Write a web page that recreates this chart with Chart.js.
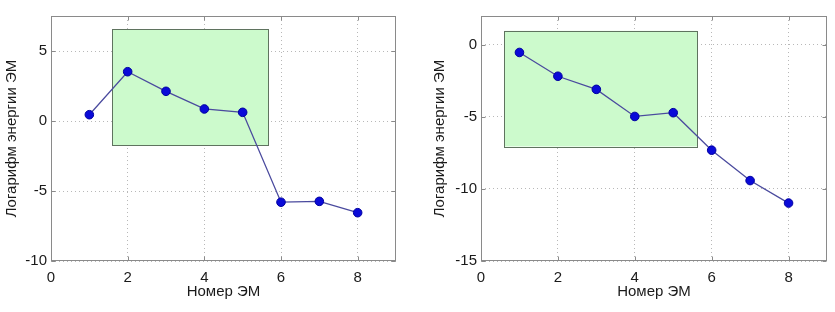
<!DOCTYPE html>
<html>
<head>
<meta charset="utf-8">
<script src="https://cdn.jsdelivr.net/npm/chart.js@4.4.0/dist/chart.umd.min.js"></script>
<style>
  html, body { margin: 0; padding: 0; background: #fff; }
  #wrap { position: relative; width: 835px; height: 312px; }
  .cell { position: absolute; top: 0; height: 312px; }
  #c1 { left: 0; width: 417px; }
  #c2 { left: 417px; width: 418px; }
</style>
</head>
<body>
<div id="wrap">
  <div class="cell" id="c1"><canvas id="left"></canvas></div>
  <div class="cell" id="c2"><canvas id="right"></canvas></div>
</div>
<script>
// ---- data ----
const emNumbers = [1, 2, 3, 4, 5, 6, 7, 8];
const leftValues = [0.45, 3.52, 2.12, 0.86, 0.62, -5.8, -5.74, -6.55];
const rightValues = [-0.53, -2.18, -3.09, -4.97, -4.71, -7.31, -9.42, -10.98];
const xTicks = [0, 2, 4, 6, 8];
const leftYTicks = [-10, -5, 0, 5];
const rightYTicks = [-15, -10, -5, 0];
const leftRange = [-10, 7.5];
const rightRange = [-15, 2];
const xRange = [0, 9];
// highlighted rectangles: [xStart, xEnd, yBottom, yTop]
const leftRect = [1.6, 5.67, -1.74, 6.55];
const rightRect = [0.61, 5.62, -7.05, 0.97];

const xTitle = 'Номер ЭМ';
const yTitle = 'Логарифм энергии ЭМ';

const FONT = 'Arial, "Liberation Sans", Helvetica, sans-serif';

const framePlugin = {
  id: 'frame',
  beforeDatasetsDraw(chart) {
    const o = chart.options.plugins.frame;
    const { ctx, scales: { x, y } } = chart;
    const r = o.rect;
    const x1 = x.getPixelForValue(r[0]), x2 = x.getPixelForValue(r[1]);
    const y1 = y.getPixelForValue(r[3]), y2 = y.getPixelForValue(r[2]);
    ctx.save();
    ctx.fillStyle = '#ccfacc';
    ctx.fillRect(x1, y1, x2 - x1, y2 - y1);
    ctx.strokeStyle = '#5f735f';
    ctx.lineWidth = 1;
    ctx.strokeRect(Math.round(x1) + 0.5, Math.round(y1) + 0.5, Math.round(x2 - x1), Math.round(y2 - y1));
    ctx.restore();
  },
  afterDraw(chart) {
    const { ctx, chartArea: a, scales: { x, y } } = chart;
    ctx.save();
    ctx.strokeStyle = '#8a8a8a';
    ctx.lineWidth = 1;
    const L = Math.round(a.left) + 0.5, R = Math.round(a.right) - 0.5;
    const T = Math.round(a.top) + 0.5, B = Math.round(a.bottom) - 0.5;
    ctx.strokeRect(L, T, R - L, B - T);
    ctx.beginPath();
    const tl = 4;
    x.ticks.forEach(t => {
      const px = Math.round(x.getPixelForValue(t.value)) + 0.5;
      ctx.moveTo(px, B); ctx.lineTo(px, B - tl);
      ctx.moveTo(px, T); ctx.lineTo(px, T + tl);
    });
    y.ticks.forEach(t => {
      const py = Math.round(y.getPixelForValue(t.value)) + 0.5;
      ctx.moveTo(L, py); ctx.lineTo(L + tl, py);
      ctx.moveTo(R, py); ctx.lineTo(R - tl, py);
    });
    ctx.stroke();
    ctx.restore();
  }
};

function makeChart(id, values, yRange, yTicks, rect, yAxisWidth, rightPad, yTitlePad) {
  const ctx = document.getElementById(id);
  return new Chart(ctx, {
    type: 'line',
    data: {
      datasets: [{
        data: emNumbers.map((e, i) => ({ x: e, y: values[i] })),
        borderColor: '#4a4a9e',
        borderWidth: 1.3,
        pointBackgroundColor: '#0a0ad8',
        pointBorderColor: '#0000a0',
        pointBorderWidth: 1,
        pointRadius: 4.3,
        tension: 0,
        fill: false
      }]
    },
    options: {
      responsive: true,
      maintainAspectRatio: false,
      animation: false,
      events: [],
      layout: { padding: { top: 16, right: rightPad, left: 0, bottom: 0 } },
      plugins: {
        legend: { display: false },
        tooltip: { enabled: false },
        frame: { rect: rect }
      },
      scales: {
        x: {
          type: 'linear',
          min: xRange[0], max: xRange[1],
          afterBuildTicks: s => { s.ticks = xTicks.map(v => ({ value: v })); },
          afterFit: s => { s.height = 51; },
          border: { display: false, dash: [1, 3] },
          grid: { color: '#b8b8b8', drawTicks: false, lineWidth: 1 },
          ticks: { color: '#1a1a1a', font: { family: FONT, size: 15 }, padding: 8 },
          title: { display: true, text: xTitle, color: '#1a1a1a', font: { family: FONT, size: 15 }, padding: { top: 0, bottom: 11 } }
        },
        y: {
          type: 'linear',
          min: yRange[0], max: yRange[1],
          afterBuildTicks: s => { s.ticks = yTicks.map(v => ({ value: v })); },
          afterFit: s => { s.width = yAxisWidth; },
          border: { display: false, dash: [1, 3] },
          grid: { color: '#b8b8b8', drawTicks: false, lineWidth: 1 },
          ticks: { color: '#1a1a1a', font: { family: FONT, size: 15 }, padding: 4 },
          title: { display: true, text: yTitle, color: '#1a1a1a', font: { family: FONT, size: 15 }, padding: { top: yTitlePad, bottom: 0 } }
        }
      }
    },
    plugins: [framePlugin]
  });
}

makeChart('left', leftValues, leftRange, leftYTicks, leftRect, 51, 21, 3);
makeChart('right', rightValues, rightRange, rightYTicks, rightRect, 64, 8, 14);
</script>
</body>
</html>
